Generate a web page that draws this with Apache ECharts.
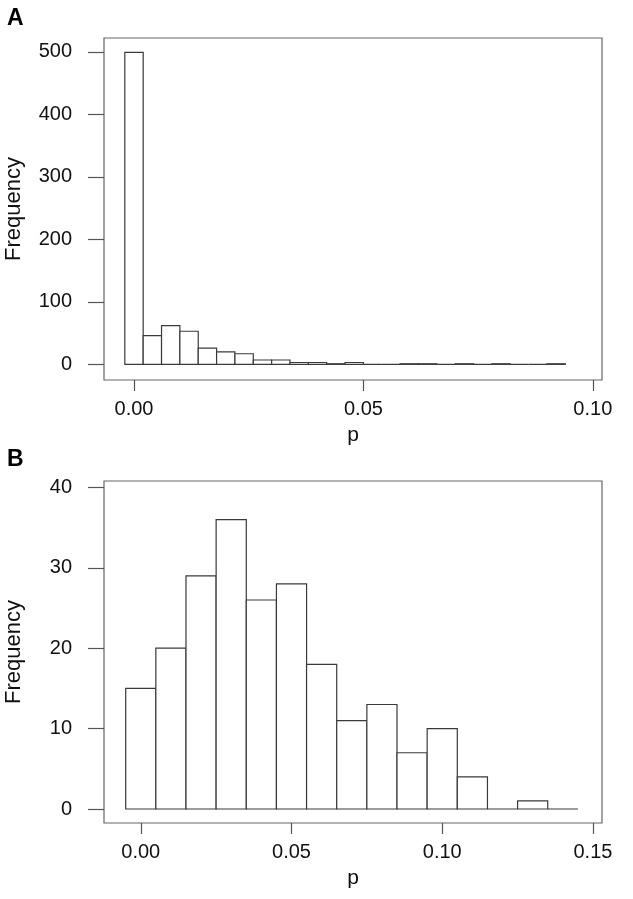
<!DOCTYPE html>
<html>
<head>
<meta charset="utf-8">
<script src="https://cdn.jsdelivr.net/npm/echarts@6/dist/echarts.min.js"></script>
<style>
html,body{margin:0;padding:0;background:#fff;}
#chart{width:633px;height:899px;}
</style>
</head>
<body>
<div id="chart"></div>
<script>
// ---- Panel A data (histogram of p) ----
const edgesA = [-0.002, 0.002, 0.006, 0.010, 0.014, 0.018, 0.022, 0.026, 0.030, 0.034, 0.038, 0.042,
                0.046, 0.050, 0.054, 0.058, 0.062, 0.066, 0.070, 0.074, 0.078, 0.082, 0.086, 0.090, 0.094];
const countsA = [499, 46, 62, 53, 26, 20, 17, 7, 7, 3, 3, 1, 3, 0, 0, 1, 1, 0, 1, 0, 1, 0, 0, 1];
const xTicksA = [0, 0.05, 0.10];
const yTicksA = [0, 100, 200, 300, 400, 500];

// ---- Panel B data ----
const edgesB = [-0.005, 0.005, 0.015, 0.025, 0.035, 0.045, 0.055, 0.065, 0.075, 0.085, 0.095, 0.105,
                0.115, 0.125, 0.135, 0.145];
const countsB = [15, 20, 29, 36, 26, 28, 18, 11, 13, 7, 10, 4, 0, 1, 0];
const xTicksB = [0, 0.05, 0.10, 0.15];
const yTicksB = [0, 10, 20, 30, 40];

const panelLabels = ['A', 'B'];
const xName = 'p';
const yName = 'Frequency';

function binData(edges, counts) {
  return counts.map((c, i) => [edges[i], edges[i + 1], c]);
}

const FONT = 'Liberation Sans, Arial, sans-serif';
const LINE = '#555';

function renderBar(params, api) {
  const p0 = api.coord([api.value(0), 0]);
  const p1 = api.coord([api.value(1), api.value(2)]);
  return {
    type: 'rect',
    shape: { x: p0[0], y: p1[1], width: p1[0] - p0[0], height: p0[1] - p1[1] },
    style: { fill: '#fff', stroke: '#3a3a3a', lineWidth: 1.2 }
  };
}

function xAxisCfg(idx, min, max, ticks) {
  return {
    gridIndex: idx, type: 'value', min: min, max: max, position: 'bottom',
    name: xName, nameLocation: 'middle', nameGap: 45,
    nameTextStyle: { fontFamily: FONT, fontSize: 21, color: '#111' },
    axisLine: { show: false, onZero: false },
    splitLine: { show: false },
    axisTick: { show: true, inside: false, length: 11, customValues: ticks, lineStyle: { color: LINE, width: 1.2 } },
    axisLabel: { show: true, customValues: ticks, margin: 19, fontFamily: FONT, fontSize: 20, color: '#111',
                 formatter: v => v.toFixed(2) }
  };
}
function yAxisCfg(idx, min, max, ticks) {
  return {
    gridIndex: idx, type: 'value', min: min, max: max, position: 'left',
    name: yName, nameLocation: 'middle', nameGap: 79,
    nameTextStyle: { fontFamily: FONT, fontSize: 22, color: '#111' },
    axisLine: { show: false, onZero: false },
    splitLine: { show: false },
    axisTick: { show: true, inside: false, length: 16, customValues: ticks, lineStyle: { color: LINE, width: 1.2 } },
    axisLabel: { show: true, customValues: ticks, margin: 32, fontFamily: FONT, fontSize: 20, color: '#111' }
  };
}

const chart = echarts.init(document.getElementById('chart'), null, { renderer: 'canvas' });
chart.setOption({
  animation: false,
  backgroundColor: '#fff',
  title: [
    { text: panelLabels[0], left: 2, top: 2, textStyle: { fontFamily: FONT, fontSize: 23, fontWeight: 'bold', color: '#000' } },
    { text: panelLabels[1], left: 2, top: 443, textStyle: { fontFamily: FONT, fontSize: 23, fontWeight: 'bold', color: '#000' } }
  ],
  grid: [
    { left: 104, top: 38, width: 498, height: 342, containLabel: false, outerBoundsMode: 'none',
      show: true, borderColor: '#666', borderWidth: 1.2, backgroundColor: 'transparent' },
    { left: 104, top: 481, width: 498, height: 342, containLabel: false, outerBoundsMode: 'none',
      show: true, borderColor: '#666', borderWidth: 1.2, backgroundColor: 'transparent' }
  ],
  xAxis: [
    xAxisCfg(0, -0.00654, 0.1020, xTicksA),
    xAxisCfg(1, -0.0122, 0.153, xTicksB)
  ],
  yAxis: [
    yAxisCfg(0, -25, 522, yTicksA),
    yAxisCfg(1, -1.74, 40.8, yTicksB)
  ],
  series: [
    { type: 'custom', xAxisIndex: 0, yAxisIndex: 0, renderItem: renderBar, encode: { x: [0, 1], y: 2 },
      data: binData(edgesA, countsA), clip: false },
    { type: 'custom', xAxisIndex: 1, yAxisIndex: 1, renderItem: renderBar, encode: { x: [0, 1], y: 2 },
      data: binData(edgesB, countsB), clip: false }
  ]
});
</script>
</body>
</html>
